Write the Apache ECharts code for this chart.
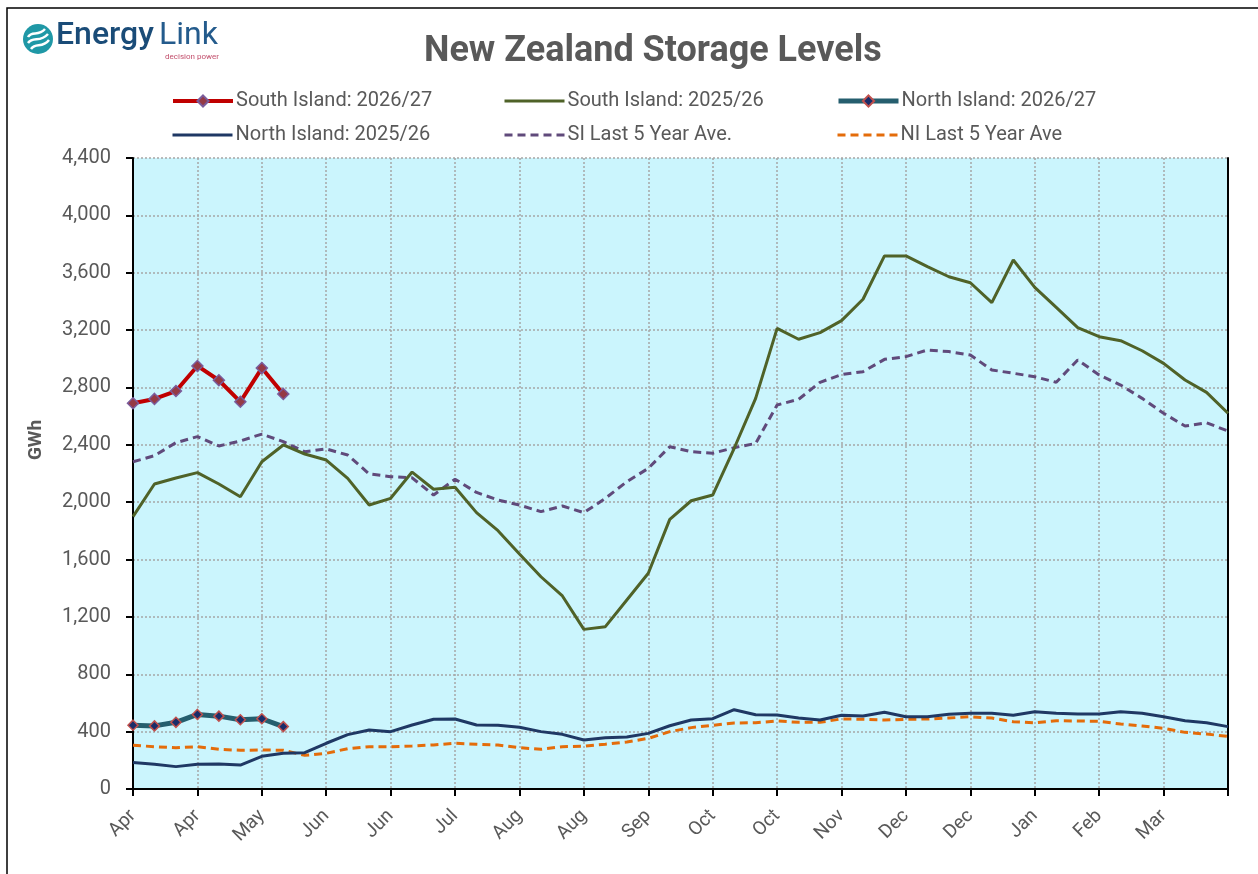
<!DOCTYPE html>
<html>
<head>
<meta charset="utf-8">
<script src="https://cdn.jsdelivr.net/npm/echarts@6/dist/echarts.min.js"></script>
<style>
html,body{margin:0;padding:0;background:#fff;}
#chart{width:1258px;height:874px;}
</style>
</head>
<body>
<div id="chart"></div>
<script>
const weekLabels = ['Apr','Apr','Apr','Apr','Apr','May','May','May','May','Jun','Jun','Jun','Jun','Jul','Jul','Jul','Jul','Jul','Aug','Aug','Aug','Aug','Sep','Sep','Sep','Sep','Sep','Oct','Oct','Oct','Oct','Nov','Nov','Nov','Nov','Dec','Dec','Dec','Dec','Dec','Jan','Jan','Jan','Jan','Feb','Feb','Feb','Feb','Mar','Mar','Mar',''];

const yTicks = { min: 0, max: 4400, interval: 400 };

const si2627 = [2690, 2720, 2775, 2950, 2850, 2700, 2935, 2755];
const ni2627 = [445, 440, 465, 520, 508, 483, 490, 435];

const si2526 = [1899, 2127, 2169, 2206, 2127, 2038, 2282, 2399, 2336, 2294, 2166, 1980, 2027, 2210,
  2090, 2104, 1927, 1801, 1639, 1480, 1346, 1113, 1132, 1318, 1504, 1880, 2010, 2050,
  2376, 2724, 3212, 3136, 3182, 3266, 3415, 3717, 3717, 3642, 3572, 3530, 3391, 3689,
  3498, 3359, 3217, 3154, 3126, 3056, 2968, 2852, 2766, 2620];

const ni2526 = [184, 172, 156, 172, 174, 167, 228, 249, 253, 319, 379, 411, 400, 446,
  486, 488, 446, 444, 430, 400, 381, 342, 358, 363, 388, 441, 481, 490,
  553, 518, 516, 495, 481, 514, 509, 535, 504, 504, 521, 528, 528, 514,
  539, 528, 523, 523, 539, 528, 504, 476, 462, 435];

const siAve = [2282, 2324, 2415, 2457, 2392, 2427, 2475, 2422, 2352, 2371, 2329, 2197, 2178, 2170,
  2050, 2160, 2068, 2015, 1980, 1934, 1973, 1927, 2027, 2143, 2236, 2387, 2352, 2341,
  2380, 2410, 2678, 2717, 2836, 2890, 2910, 2996, 3015, 3061, 3050, 3026, 2922, 2899,
  2875, 2836, 2992, 2887, 2817, 2724, 2620, 2531, 2554, 2496];

const niAve = [305, 295, 288, 295, 277, 270, 272, 270, 235, 249, 281, 295, 295, 300,
  307, 319, 312, 307, 288, 277, 295, 298, 312, 328, 353, 400, 428, 444,
  460, 462, 474, 465, 465, 489, 486, 481, 486, 488, 495, 504, 495, 469,
  462, 476, 474, 472, 453, 439, 423, 395, 383, 367];

const seriesNames = ['South Island: 2026/27', 'South Island: 2025/26', 'North Island: 2026/27',
  'North Island: 2025/26', 'SI Last 5 Year Ave.', 'NI Last 5 Year Ave'];

const FONT = 'Roboto';
const GREY = '#595959';

const chart = echarts.init(document.getElementById('chart'));

function legendAt(name, left, top, lineW, hideSymbol) {
  const lg = {
    data: [name], left: left, top: top, itemWidth: 60, itemHeight: 14, padding: 0,
    lineStyle: { width: lineW },
    textStyle: { fontSize: 20, color: GREY, fontFamily: FONT, padding: [0, 0, 0, -2] }
  };
  if (hideSymbol) lg.itemStyle = { opacity: 0 };
  return lg;
}

function wave(x1, y1, x2, y2, c1x, c1y, c2x, c2y) {
  return { type: 'bezierCurve', shape: { x1: x1, y1: y1, x2: x2, y2: y2, cpx1: c1x, cpy1: c1y, cpx2: c2x, cpy2: c2y },
    style: { stroke: '#ffffff', lineWidth: 2.5, fill: null }, z: 11 };
}

const option = {
  animation: false,
  backgroundColor: '#ffffff',
  title: {
    text: 'New Zealand Storage Levels', left: 419, top: 29,
    textStyle: { fontSize: 36, fontWeight: 'bold', color: GREY, fontFamily: FONT }
  },
  legend: [
    legendAt(seriesNames[0], 171, 91, 4, false),
    legendAt(seriesNames[1], 503, 91, 3, true),
    legendAt(seriesNames[2], 836, 91, 5, false),
    legendAt(seriesNames[3], 171, 125, 3, true),
    legendAt(seriesNames[4], 503, 125, 3, true),
    legendAt(seriesNames[5], 836, 125, 3, true)
  ],
  grid: {
    left: 133, top: 158, right: 30, bottom: 85, show: true,
    backgroundColor: '#cbf5fd', borderColor: '#000', borderWidth: 0
  },
  xAxis: [
    {
      type: 'category', data: weekLabels, boundaryGap: false,
      axisLine: { lineStyle: { color: '#000', width: 2 } },
      axisTick: { interval: 2, length: 7, lineStyle: { color: '#000', width: 2 } },
      splitLine: { show: true, interval: 2, lineStyle: { color: '#a6a6a6', type: [2, 2], width: 1.5 } },
      axisLabel: { interval: 2, rotate: 45, fontSize: 19, color: GREY, fontFamily: FONT, margin: 24 }
    },
    {
      type: 'category', data: weekLabels, boundaryGap: false, position: 'top',
      axisLine: { show: true, lineStyle: { color: '#000', width: 2 } },
      axisTick: { show: false }, axisLabel: { show: false }, splitLine: { show: false }
    }
  ],
  yAxis: [
    {
      type: 'value', min: yTicks.min, max: yTicks.max, interval: yTicks.interval,
      axisLine: { show: true, lineStyle: { color: '#000', width: 2 } },
      axisTick: { show: true, length: 7, lineStyle: { color: '#000', width: 2 } },
      splitLine: { show: true, lineStyle: { color: '#a6a6a6', type: [2, 2], width: 1.5 } },
      axisLabel: {
        fontSize: 20, color: GREY, fontFamily: FONT, margin: 22,
        formatter: v => v.toString().replace(/\B(?=(\d{3})+(?!\d))/g, ',')
      }
    },
    {
      type: 'value', min: yTicks.min, max: yTicks.max, interval: yTicks.interval, position: 'right',
      axisLine: { show: true, lineStyle: { color: '#000', width: 2 } },
      axisTick: { show: false }, axisLabel: { show: false }, splitLine: { show: false }
    }
  ],
  graphic: [
    { type: 'rect', shape: { x: 7, y: 8, width: 1270, height: 900 }, style: { fill: null, stroke: '#000', lineWidth: 1.5 }, z: 100 },
    { type: 'circle', shape: { cx: 38, cy: 39, r: 15 }, style: { fill: '#1f98a6' }, z: 10 },
    wave(28, 37, 45, 29, 32, 30, 38, 37),
    wave(28, 43, 48, 34, 33, 36, 40, 43),
    wave(31, 49, 49, 40, 36, 42, 42, 49),
    { type: 'text', left: 56, top: 20, style: { text: 'Energy', fontSize: 32, fontWeight: 500, fill: '#1a4c78', fontFamily: FONT } },
    { type: 'text', left: 159, top: 20, style: { text: 'Link', fontSize: 32, fontWeight: 400, fill: '#245b8c', fontFamily: FONT } },
    { type: 'text', left: 165, top: 53, style: { text: 'decision power', fontSize: 8, fill: '#c24f6c', fontFamily: FONT } },
    { type: 'text', x: 36, y: 440, rotation: Math.PI / 2, style: { text: 'GWh', fontSize: 19, fontWeight: 'bold', fill: GREY, fontFamily: FONT, align: 'center', verticalAlign: 'middle' } }
  ],
  series: [
    {
      name: seriesNames[1], type: 'line', data: si2526, showSymbol: false, symbol: 'none',
      lineStyle: { color: '#4f6228', width: 3 }, itemStyle: { color: '#4f6228' }, z: 3
    },
    {
      name: seriesNames[3], type: 'line', data: ni2526, showSymbol: false, symbol: 'none',
      lineStyle: { color: '#1f3864', width: 3 }, itemStyle: { color: '#1f3864' }, z: 3
    },
    {
      name: seriesNames[4], type: 'line', data: siAve, showSymbol: false, symbol: 'none',
      lineStyle: { color: '#604a7b', width: 3, type: [8, 5] }, itemStyle: { color: '#604a7b' }, z: 2
    },
    {
      name: seriesNames[5], type: 'line', data: niAve, showSymbol: false, symbol: 'none',
      lineStyle: { color: '#e46c0a', width: 3, type: [8, 5] }, itemStyle: { color: '#e46c0a' }, z: 2
    },
    {
      name: seriesNames[0], type: 'line', data: si2627, symbol: 'diamond', symbolSize: 11,
      lineStyle: { color: '#c00000', width: 4 },
      itemStyle: { color: '#953a45', borderColor: '#7a5c9c', borderWidth: 1.5 }, z: 5
    },
    {
      name: seriesNames[2], type: 'line', data: ni2627, symbol: 'diamond', symbolSize: 10,
      lineStyle: { color: '#255e6e', width: 5 },
      itemStyle: { color: '#1a2d6a', borderColor: '#c0504d', borderWidth: 1.5 }, z: 5
    }
  ]
};
chart.setOption(option);
</script>
</body>
</html>
